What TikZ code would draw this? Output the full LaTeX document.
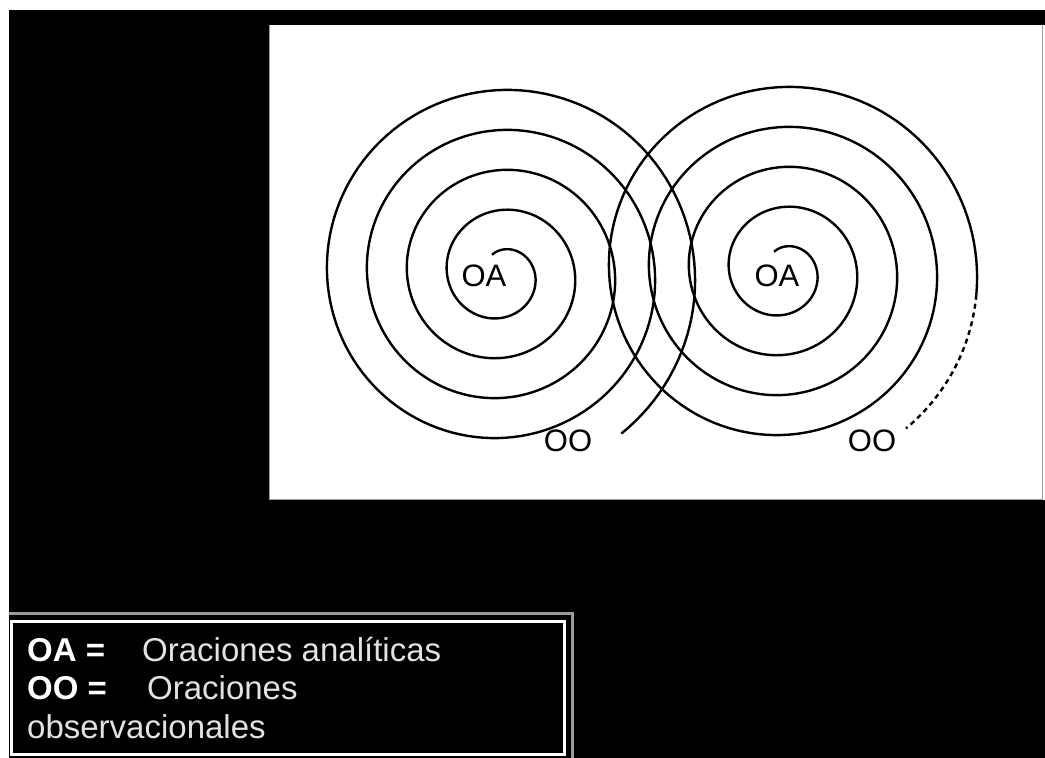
\documentclass[tikz,border=0pt]{standalone}
\usepackage{fontspec}
\setmainfont{Liberation Sans}
\usetikzlibrary{positioning}
\definecolor{panelgray}{HTML}{9A9A9A}
\definecolor{legendtext}{HTML}{E2E2E2}
\tikzset{
  spiral/.style={line width=2.4pt, color=black, line join=round},
  spiraltail/.style={spiral, dash pattern=on 5pt off 4pt},
  lbl/.style={font=\fontsize{31}{31}\selectfont, inner sep=0pt, text=black},
  keyterm/.style={font=\fontsize{33}{33}\selectfont\bfseries, text=white,
    inner sep=0pt, anchor=base west},
  keydef/.style={font=\fontsize{33}{33}\selectfont, text=legendtext,
    inner sep=0pt, anchor=base west},
}

\begin{document}
\begin{tikzpicture}[x=1pt,y=1pt]
  \useasboundingbox (0,0) rectangle (1045,758);
  \fill[white] (0,0) rectangle (1045,758);
  \fill[black] (9,0) rectangle (1045,748);
  % the white panel
  \fill[white] (269,258) rectangle (1045,733);
  \draw[panelgray, line width=1pt] (269.5,733) -- (269.5,258.5) -- (1042,258.5) -- (1042,733);
  % the two spirals, r grows 40 per turn
  \foreach \cx/\cy/\stop in {501/484/-1493, 783/487/-1447} {
    \draw[spiral] plot[domain=115:\stop, samples=600, variable=\t]
      ({\cx+(24+(90-\t)/9)*cos(\t)}, {\cy+(24+(90-\t)/9)*sin(\t)});
  }
  \draw[spiraltail] plot[domain=-1447:-1492, samples=40, variable=\t]
    ({783+(24+(90-\t)/9)*cos(\t)}, {487+(24+(90-\t)/9)*sin(\t)});
  \node[lbl] (oaleft) at (484,482) {OA};
  \node[lbl] (oaright) at (777,482) {OA};
  \node[lbl] (ooleft) at (568,317) {OO};
  \node[lbl] (ooright) at (872,317) {OO};
  % legend
  \draw[panelgray, line width=3pt] (9,144) -- (572,144) -- (572,-4);
  \draw[white, line width=3pt] (11.5,3) rectangle (564.5,136);
  \node[keyterm] (oakey) at (27,96) {OA =};
  \node[keydef] (oadef) at (142,96) {Oraciones analíticas};
  \node[keyterm] (ookey) at (27,58) {OO =};
  \node[keydef] (oodef) at (147,58) {Oraciones};
  \node[keydef] (oomore) at (27,19) {observacionales};
\end{tikzpicture}
\end{document}
